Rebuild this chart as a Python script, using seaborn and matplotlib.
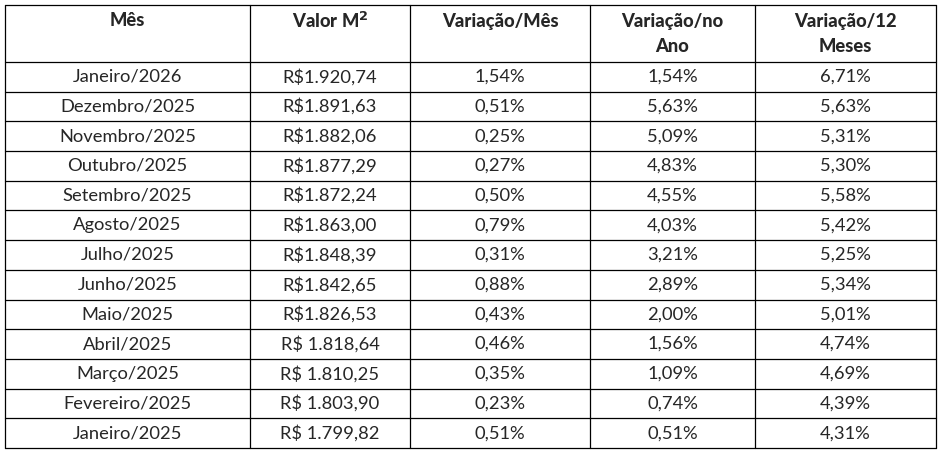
import matplotlib
matplotlib.use("Agg")
import matplotlib.pyplot as plt
import seaborn as sns

sns.set_theme(style="white")
plt.rcParams['font.family'] = ['Lato', 'DejaVu Sans']

headers = ["Mês", "Valor M$^{\\mathbf{2}}$", "Variação/Mês", "Variação/no\nAno", "Variação/12\nMeses"]
meses = ["Janeiro/2026", "Dezembro/2025", "Novembro/2025", "Outubro/2025", "Setembro/2025",
         "Agosto/2025", "Julho/2025", "Junho/2025", "Maio/2025", "Abril/2025", "Março/2025",
         "Fevereiro/2025", "Janeiro/2025"]
valores = ["R$1.920,74", "R$1.891,63", "R$1.882,06", "R$1.877,29", "R$1.872,24", "R$1.863,00",
           "R$1.848,39", "R$1.842,65", "R$1.826,53", "R$ 1.818,64", "R$ 1.810,25", "R$ 1.803,90",
           "R$ 1.799,82"]
var_mes = ["1,54%", "0,51%", "0,25%", "0,27%", "0,50%", "0,79%", "0,31%", "0,88%", "0,43%",
           "0,46%", "0,35%", "0,23%", "0,51%"]
var_ano = ["1,54%", "5,63%", "5,09%", "4,83%", "4,55%", "4,03%", "3,21%", "2,89%", "2,00%",
           "1,56%", "1,09%", "0,74%", "0,51%"]
var_12 = ["6,71%", "5,63%", "5,31%", "5,30%", "5,58%", "5,42%", "5,25%", "5,34%", "5,01%",
          "4,74%", "4,69%", "4,39%", "4,31%"]

W, H = 943, 453
fig = plt.figure(figsize=(W / 100, H / 100), dpi=100)
ax = fig.add_axes([0, 0, 1, 1])
ax.set_xlim(0, W)
ax.set_ylim(H, 0)
ax.axis("off")

xs = [5, 250, 410, 590, 755, 936]
head_top, head_bot, bottom = 5, 62, 448
n = len(meses)
rh = (bottom - head_bot) / n
ys = [head_top, head_bot] + [head_bot + rh * (i + 1) for i in range(n)]

for y in ys:
    ax.plot([xs[0], xs[-1]], [y, y], color="black", lw=0.9)
for x in xs:
    ax.plot([x, x], [head_top, bottom], color="black", lw=0.9)

fs = 13.2
for j, h in enumerate(headers):
    cx = (xs[j] + xs[j + 1]) / 2
    if "\n" in h:
        a, b = h.split("\n")
        ax.text(cx, 21, a, ha="center", va="center", fontsize=fs, fontweight="black")
        ax.text(cx, 46, b, ha="center", va="center", fontsize=fs, fontweight="black")
    else:
        ax.text(cx, 21, h, ha="center", va="center", fontsize=fs, fontweight="black")

cols = [meses, valores, var_mes, var_ano, var_12]
for j, col in enumerate(cols):
    cx = (xs[j] + xs[j + 1]) / 2
    for i, v in enumerate(col):
        cy = head_bot + rh * (i + 0.5)
        ax.text(cx, cy, v, ha="center", va="center", fontsize=fs)

fig.savefig("out.png", dpi=100, facecolor="white")
